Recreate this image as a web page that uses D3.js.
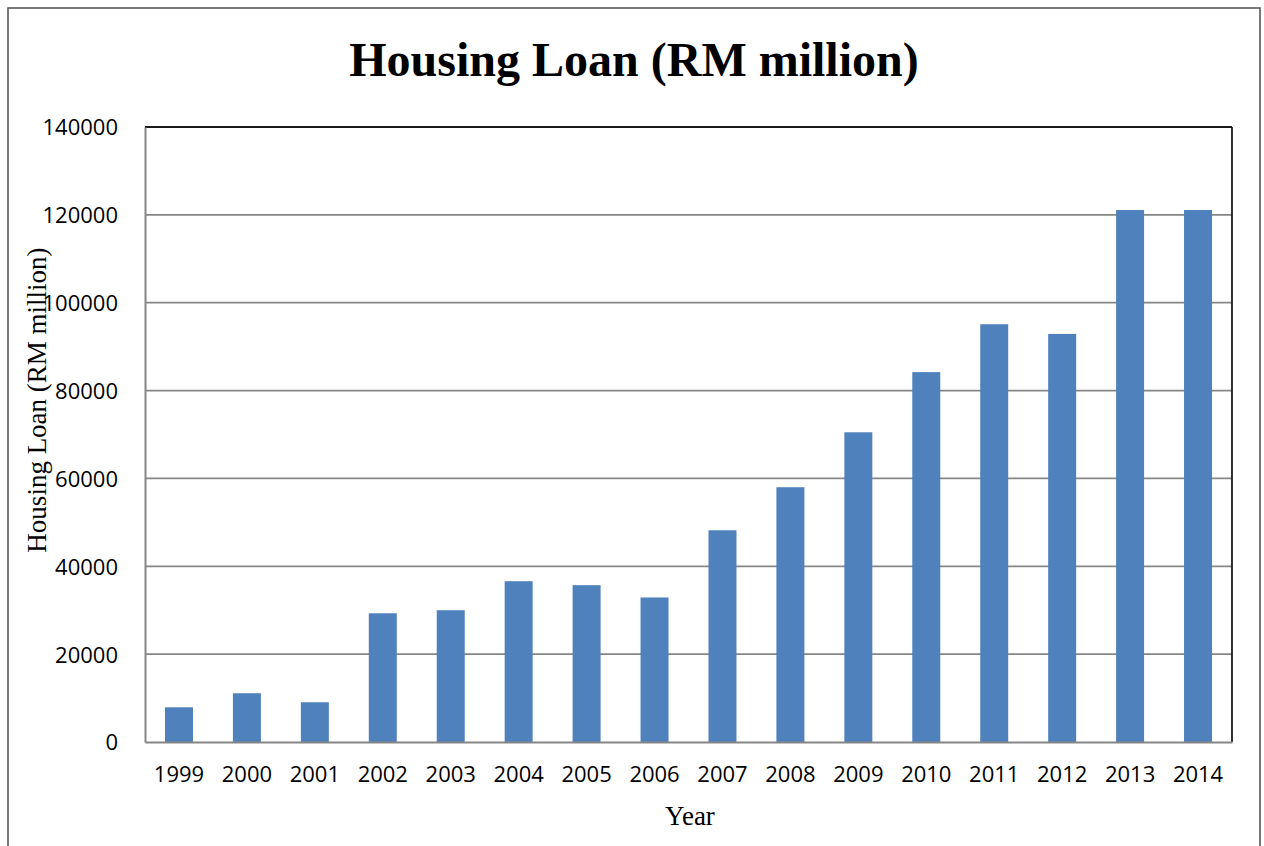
<!DOCTYPE html>
<html>
<head>
<meta charset="utf-8">
<script src="https://cdn.jsdelivr.net/npm/d3@7"></script>
<style>
  html, body { margin: 0; padding: 0; background: #fff; }
  svg { display: block; }
</style>
</head>
<body>
<svg id="chart" width="1264" height="846"></svg>
<script>
const years = ["1999","2000","2001","2002","2003","2004","2005","2006","2007","2008","2009","2010","2011","2012","2013","2014"];
const loans = [7900, 11100, 9050, 29300, 30000, 36600, 35700, 32900, 48200, 58000, 70500, 84200, 95100, 92900, 121100, 121100];
const yTicks = [0, 20000, 40000, 60000, 80000, 100000, 120000, 140000];
const titleText = "Housing Loan (RM million)";
const yAxisTitle = "Housing Loan (RM million)";
const xAxisTitle = "Year";

const svg = d3.select("#chart");
const plot = { left: 145, top: 127, right: 1232, bottom: 742 };

// outer frame
svg.append("rect")
  .attr("x", 8).attr("y", 8)
  .attr("width", 1252).attr("height", 860)
  .attr("fill", "#fff")
  .attr("stroke", "#4d4d4d").attr("stroke-width", 1.5);

const x = d3.scaleBand()
  .domain(years)
  .range([plot.left, plot.right])
  .paddingInner(0.588)
  .paddingOuter(0.294);

const y = d3.scaleLinear()
  .domain([0, 140000])
  .range([plot.bottom, plot.top]);

// gridlines
svg.append("g")
  .selectAll("line")
  .data(yTicks.filter(d => d > 0 && d < 140000))
  .join("line")
  .attr("x1", plot.left).attr("x2", plot.right)
  .attr("y1", d => y(d)).attr("y2", d => y(d))
  .attr("stroke", "#868686").attr("stroke-width", 1.8);

// plot border top & right
svg.append("line")
  .attr("x1", plot.left).attr("x2", plot.right)
  .attr("y1", plot.top).attr("y2", plot.top)
  .attr("stroke", "#1a1a1a").attr("stroke-width", 1.8);
svg.append("line")
  .attr("x1", plot.right).attr("x2", plot.right)
  .attr("y1", plot.top).attr("y2", plot.bottom)
  .attr("stroke", "#1a1a1a").attr("stroke-width", 1.8);

// bars
svg.append("g")
  .selectAll("rect")
  .data(years.map((yr, i) => ({ yr, v: loans[i] })))
  .join("rect")
  .attr("x", d => x(d.yr))
  .attr("width", x.bandwidth())
  .attr("y", d => y(d.v))
  .attr("height", d => y(0) - y(d.v))
  .attr("fill", "#4F81BD");

// y axis
const yAxis = d3.axisLeft(y).tickValues(yTicks).tickSize(0).tickPadding(27).tickFormat(d3.format("d"));
const gy = svg.append("g").attr("transform", `translate(${plot.left},0)`).call(yAxis);
gy.select(".domain").attr("stroke", "#868686").attr("stroke-width", 2);
gy.selectAll("text")
  .attr("font-family", "'Open Sans', sans-serif")
  .attr("font-size", 22)
  .attr("fill", "#000")
  .attr("dy", "0.36em");

// x axis
const xAxis = d3.axisBottom(x).tickSize(0).tickPadding(24);
const gx = svg.append("g").attr("transform", `translate(0,${plot.bottom})`).call(xAxis);
gx.select(".domain").attr("stroke", "#868686").attr("stroke-width", 2);
gx.selectAll("text")
  .attr("font-family", "'Open Sans', sans-serif")
  .attr("font-size", 22)
  .attr("fill", "#000");

// title
svg.append("text")
  .attr("x", 634).attr("y", 76)
  .attr("text-anchor", "middle")
  .attr("font-family", "'Liberation Serif', 'Times New Roman', serif")
  .attr("font-weight", "bold")
  .attr("font-size", 48)
  .attr("fill", "#000")
  .text(titleText);

// y axis title
svg.append("text")
  .attr("transform", "translate(46,400) rotate(-90)")
  .attr("text-anchor", "middle")
  .attr("font-family", "'Liberation Serif', 'Times New Roman', serif")
  .attr("font-size", 27)
  .attr("fill", "#000")
  .text(yAxisTitle);

// x axis title
svg.append("text")
  .attr("x", 690).attr("y", 825)
  .attr("text-anchor", "middle")
  .attr("font-family", "'Liberation Serif', 'Times New Roman', serif")
  .attr("font-size", 27)
  .attr("fill", "#000")
  .text(xAxisTitle);
</script>
</body>
</html>
